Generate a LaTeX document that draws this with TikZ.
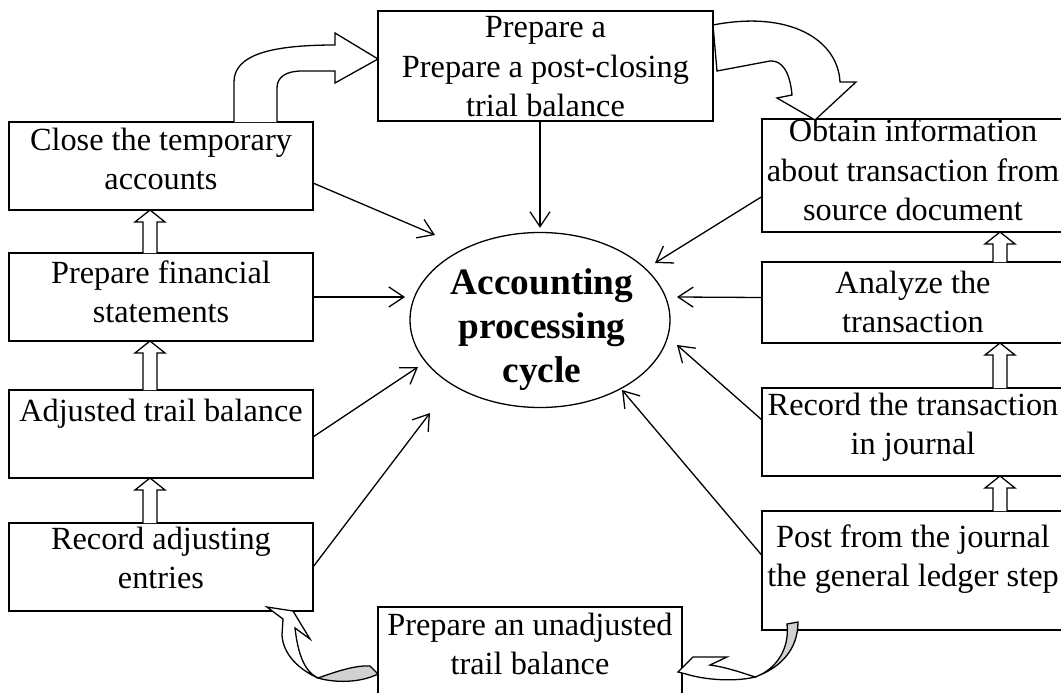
\documentclass[tikz,border=0pt]{standalone}
\usepackage{fontspec}
\setmainfont{Liberation Serif}
\usetikzlibrary{shapes.geometric,arrows.meta,calc}

% text set at the top of a fixed-size box: width, height, first baseline, text
\newcommand\boxtext[4]{\parbox[t][#2][t]{#1}{\centering\rule{0pt}{#3}#4\par}}
% hollow upward block arrow: centre x, bottom y, tip y
\newcommand\upblock[3]{%
  \draw[blockarrow] (#1-7,#2) -- (#1-7,#3+12) -- (#1-15,#3+12) -- (#1,#3)
    -- (#1+15,#3+12) -- (#1+7,#3+12) -- (#1+7,#2);}

\tikzset{
  stepbox/.style={draw, line width=1.3pt, inner sep=0pt, outer sep=0pt,
    anchor=north west, font=\fontsize{32.3pt}{39.5pt}\selectfont},
  conn/.style={line width=1.3pt, -{Straight Barb[length=15pt,width=20pt]}},
  blockarrow/.style={line width=1.3pt, fill=white, line join=miter},
  twist/.style={line width=1.3pt, fill=black!18},
}

\begin{document}
\begin{tikzpicture}[x=1pt,y=-1pt]
\fill[white] (0,0) rectangle (1061,693);
\useasboundingbox (0,0) rectangle (1061,693);

% left column
\node[stepbox] (close) at (9,122) {\boxtext{304pt}{88pt}{28pt}{Close the temporary\\accounts}};
\node[stepbox] (fin)   at (9,253) {\boxtext{304pt}{88pt}{30pt}{Prepare financial\\statements}};
\node[stepbox] (adj)   at (9,390) {\boxtext{304pt}{88pt}{31pt}{Adjusted trail balance}};
\node[stepbox] (radj)  at (9,523) {\boxtext{304pt}{88pt}{26pt}{Record adjusting\\entries}};

% top and bottom
\node[stepbox] (post)  at (378,11) {\boxtext{335pt}{110pt}{27pt}{Prepare a\\Prepare a post-closing\\trial balance}};
\node[stepbox] (unadj) at (378,607) {\boxtext{304pt}{100pt}{28pt}{Prepare an unadjusted\\trail balance}};

% right column
\node[stepbox] (obtain)  at (762,119) {\boxtext{302pt}{113pt}{23pt}{Obtain information\\about transaction from\\source document}};
\node[stepbox] (analyze) at (762,262) {\boxtext{302pt}{81pt}{31pt}{Analyze the\\transaction}};
\node[stepbox] (rjour)   at (762,388) {\boxtext{302pt}{88pt}{27pt}{Record the transaction\\in journal}};
\node[stepbox] (pgl)     at (762,511) {\boxtext{302pt}{119pt}{36pt}{Post from the journal\\the general ledger step}};

% centre
\node[draw, ellipse, line width=1.3pt, minimum width=260pt, minimum height=175pt,
      inner sep=0pt] (cyc) at (540,320) {};
\node[font=\fontsize{37.3pt}{44pt}\selectfont\bfseries, align=center]
      (cyctxt) at (542,330) {Accounting\\processing\\cycle};

% connectors into the cycle
\draw[conn] (post.south -| cyc.north) -- ($(cyc.north)+(0,-4)$);
\draw[conn] ([yshift=-17pt]close.east) -- ($(cyc.center)+(-105,-85)$);
\draw[conn] (fin.east) -- ($(cyc.center)+(-135,-23)$);
\draw[conn] ([yshift=-3pt]adj.east) -- ($(cyc.center)+(-122,47)$);
\draw[conn] (radj.east) -- ($(cyc.center)+(-110,93)$);
\draw[conn] ([yshift=-21pt]obtain.west) -- ($(cyc.center)+(115,-57)$);
\draw[conn] ([yshift=5pt]analyze.west) -- ($(cyc.center)+(137,-23)$);
\draw[conn] ([yshift=12pt]rjour.west) -- ($(cyc.center)+(137,25)$);
\draw[conn] ([yshift=15pt]pgl.west) -- ($(cyc.center)+(82,70)$);

% hollow arrows up each column
\upblock{150}{253}{210}
\upblock{150}{390}{341}
\upblock{150}{523}{478}
\upblock{1000}{262}{232}
\upblock{1000}{388}{343}
\upblock{1000}{511}{476}

% bent arrow from the closing step to the post-closing trial balance
\draw[blockarrow] (234,122) -- (234,82) .. controls (234,55) and (270,45) .. (335,45)
  -- (335,33) -- (378,59) -- (335,83) -- (335,71) -- (302,71)
  .. controls (286,71) and (277,77) .. (277,88) -- (277,122);

% curved arrow from the post-closing trial balance down to the first step
\draw[blockarrow] (717,71) -- (713,25) .. controls (790,10) and (838,40) .. (840,82)
  -- (856,82) -- (815,120) -- (777,98) -- (792,95)
  .. controls (790,72) and (782,60) .. (770,61) -- cycle;

% twisted arrow from the unadjusted trial balance up to the adjusting entries
\draw[blockarrow] (267,607) -- (293,611) -- (310,639) -- (295,628)
  .. controls (298,655) and (305,672) .. (318,678)
  .. controls (300,670) and (283,655) .. (282,635) -- (283,619) -- cycle;
\draw[twist] (318,678) .. controls (335,672) and (355,665) .. (370,666)
  -- (378,674) .. controls (360,683) and (335,683) .. (318,678) -- cycle;

% twisted arrow from posting down to the unadjusted trial balance
\draw[twist] (787,624) .. controls (790,650) and (775,670) .. (755,677)
  .. controls (780,668) and (798,650) .. (798,622) -- cycle;
\draw[blockarrow] (755,677) .. controls (740,672) and (725,667) .. (710,665)
  -- (727,657) -- (693,657) -- (678,672) -- (686,674)
  .. controls (705,680) and (735,682) .. (755,677) -- cycle;
\end{tikzpicture}
\end{document}
